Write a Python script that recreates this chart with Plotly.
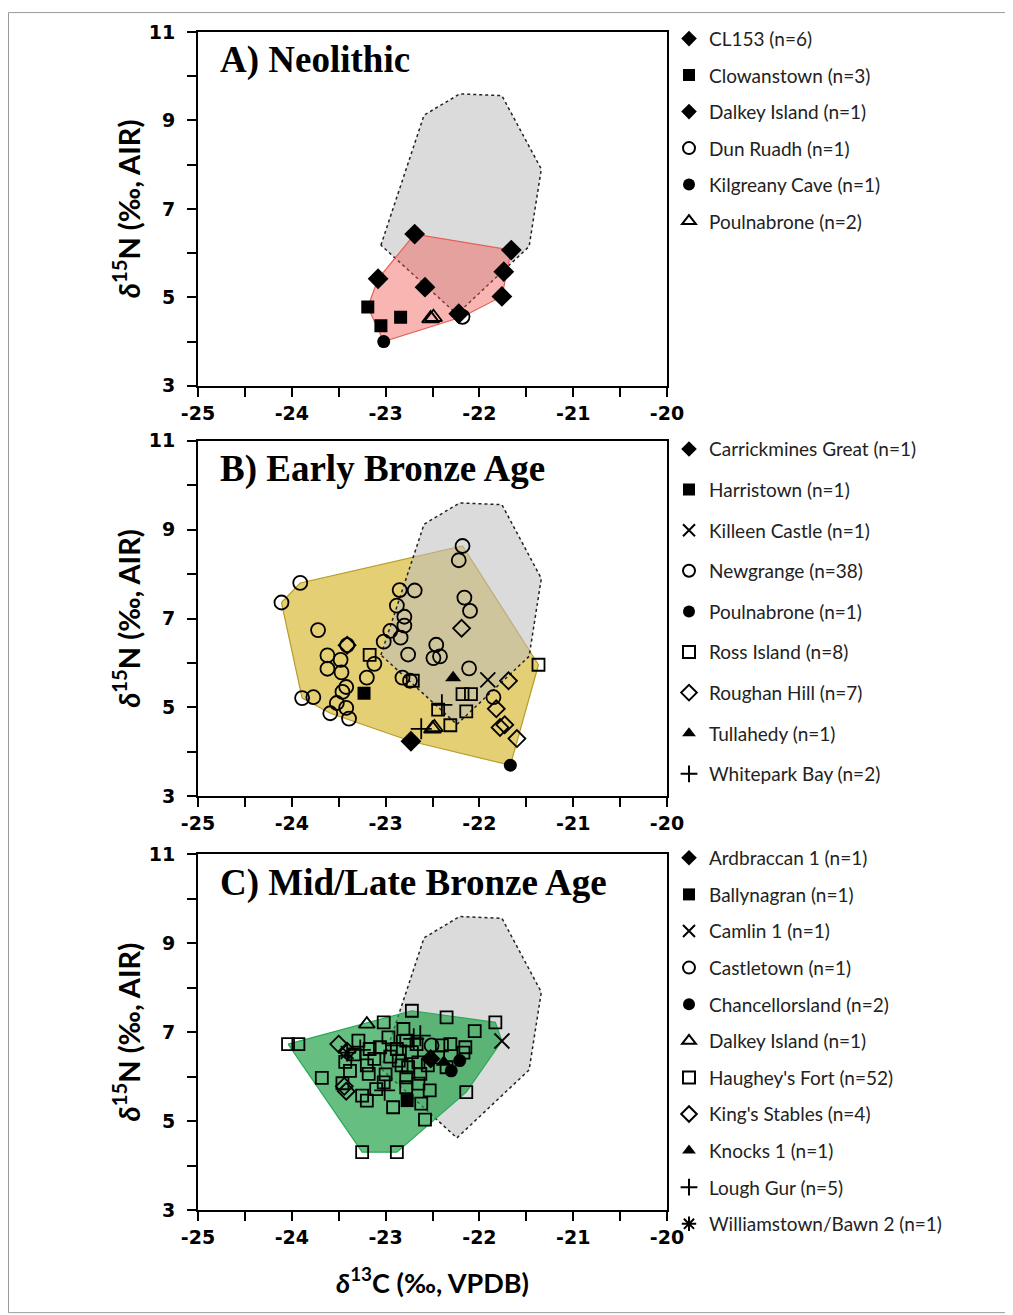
import plotly.graph_objects as go

# ---------------- reference (grey) region ----------------
ref_c13 = [-23.05, -22.59, -22.21, -21.76, -21.34, -21.47, -22.24]
ref_n15 = [6.18, 9.12, 9.60, 9.56, 7.90, 6.15, 4.62]

# ---------------- Panel A: Neolithic ----------------
a_cl153_x = [-22.69, -21.66, -23.08, -22.58, -21.74, -21.76]
a_cl153_y = [6.43, 6.07, 5.42, 5.23, 5.58, 5.02]
a_clow_x = [-23.19, -23.05, -22.84]
a_clow_y = [4.78, 4.36, 4.55]
a_dalkey_x = [-22.22]
a_dalkey_y = [4.63]
a_dun_x = [-22.18]
a_dun_y = [4.56]
a_kil_x = [-23.02]
a_kil_y = [4.00]
a_poul_x = [-22.52, -22.49]
a_poul_y = [4.52, 4.55]

# ---------------- Panel B: Early Bronze Age ----------------
b_carr_x = [-22.73]
b_carr_y = [4.24]
b_harr_x = [-23.23]
b_harr_y = [5.32]
b_kill_x = [-21.91]
b_kill_y = [5.62]
b_new_x = [-22.18, -22.22, -23.91, -24.11, -22.85, -22.69, -22.16, -22.10, -22.88, -22.80,
           -22.80, -23.72, -22.95, -22.84, -23.02, -22.46, -23.41, -23.62, -23.48, -23.12,
           -22.76, -23.62, -23.47, -23.20, -22.82, -22.74, -23.42, -23.46, -23.89, -23.77,
           -23.52, -23.42, -23.59, -23.39, -22.49, -22.42, -22.11, -21.85]
b_new_y = [8.63, 8.31, 7.80, 7.36, 7.64, 7.63, 7.47, 7.17, 7.29, 7.04,
           6.84, 6.74, 6.72, 6.57, 6.48, 6.41, 6.40, 6.17, 6.07, 5.98,
           6.19, 5.87, 5.79, 5.67, 5.67, 5.60, 5.46, 5.35, 5.21, 5.23,
           5.10, 4.99, 4.87, 4.75, 6.11, 6.15, 5.88, 5.23]
b_poul_x = [-21.67]
b_poul_y = [3.70]
b_ross_x = [-23.17, -22.71, -21.37, -22.18, -22.09, -22.44, -22.14, -22.31]
b_ross_y = [6.18, 5.60, 5.96, 5.30, 5.30, 4.95, 4.91, 4.60]
b_rough_x = [-23.41, -22.19, -21.69, -21.82, -21.78, -21.73, -21.60]
b_rough_y = [6.40, 6.78, 5.60, 4.97, 4.55, 4.61, 4.30]
b_tull_x = [-22.28]
b_tull_y = [5.67]
b_white_x = [-22.40, -22.62]
b_white_y = [5.06, 4.52]
b_tri_x = [-22.50, -22.48]
b_tri_y = [4.52, 4.55]

# ---------------- Panel C: Mid/Late Bronze Age ----------------
c_ard_x = [-22.52]
c_ard_y = [6.40]
c_bally_x = [-22.77]
c_bally_y = [5.46]
c_camlin_x = [-21.76]
c_camlin_y = [6.80]
c_castle_x = [-22.51]
c_castle_y = [6.70]
c_chan_x = [-22.21, -22.30]
c_chan_y = [6.36, 6.13]
c_dalkey_x = [-23.20]
c_dalkey_y = [7.18]
c_haugh_x = [-24.04, -23.93, -23.68, -23.25, -22.88, -22.72, -22.35, -21.83, -22.05, -23.02,
             -22.14, -22.58, -22.92, -23.20, -23.25, -23.02, -23.10, -23.46, -23.38, -23.20,
             -23.18, -23.43, -23.29, -23.17, -23.06, -22.97, -22.81, -22.78, -22.88, -22.86,
             -22.83, -22.67, -22.65, -22.63, -22.76, -22.78, -22.78, -22.65, -22.53, -22.62,
             -22.31, -22.15, -22.17, -22.44, -22.35, -23.33, -22.95, -23.12, -22.72, -22.40,
             -23.00, -22.55]
c_haugh_y = [6.73, 6.73, 5.97, 4.30, 4.30, 7.48, 7.33, 7.22, 7.02, 7.22,
             5.65, 5.03, 5.31, 5.46, 5.57, 5.87, 5.72, 5.85, 6.13, 6.25,
             6.06, 6.33, 6.81, 6.62, 6.66, 6.88, 7.07, 6.81, 6.62, 6.36,
             6.25, 6.73, 6.32, 6.06, 6.21, 5.98, 5.76, 5.84, 5.69, 5.39,
             6.73, 6.66, 6.54, 6.43, 6.21, 6.50, 6.45, 6.40, 6.55, 6.70,
             6.05, 6.25]
c_kings_x = [-23.50, -23.41, -23.44, -23.42]
c_kings_y = [6.73, 6.57, 5.78, 5.67]
c_knocks_x = [-22.38]
c_knocks_y = [6.32]
c_lough_x = [-22.63, -23.01, -22.70, -22.88, -23.27]
c_lough_y = [6.92, 5.69, 6.85, 6.70, 6.60]
c_will_x = [-23.41]
c_will_y = [6.54]

x_major = [-25, -24, -23, -22, -21, -20]
y_major = [3, 5, 7, 9, 11]


def hull(xs, ys):
    pts = sorted(set(zip(xs, ys)))
    def cross(o, a, b):
        return (a[0] - o[0]) * (b[1] - o[1]) - (a[1] - o[1]) * (b[0] - o[0])
    lower, upper = [], []
    for p in pts:
        while len(lower) >= 2 and cross(lower[-2], lower[-1], p) <= 0:
            lower.pop()
        lower.append(p)
    for p in reversed(pts):
        while len(upper) >= 2 and cross(upper[-2], upper[-1], p) <= 0:
            upper.pop()
        upper.append(p)
    h = lower[:-1] + upper[:-1]
    h.append(h[0])
    return [p[0] for p in h], [p[1] for p in h]


fig = go.Figure()

LEGEND_FONT = dict(family="Lato, Calibri, sans-serif", size=19, color="#222")


def ref_poly(ax, fill):
    fig.add_trace(go.Scatter(x=ref_c13 + ref_c13[:1], y=ref_n15 + ref_n15[:1], mode="lines",
                             fill="toself", fillcolor=fill,
                             line=dict(color="#222", width=1.5, dash="dot"),
                             xaxis="x" + ax, yaxis="y" + ax, showlegend=False, hoverinfo="skip"))


def hull_poly(ax, xs, ys, fill, edge):
    hx, hy = hull(xs, ys)
    fig.add_trace(go.Scatter(x=hx, y=hy, mode="lines", fill="toself", fillcolor=fill,
                             line=dict(color=edge, width=1.2),
                             xaxis="x" + ax, yaxis="y" + ax, showlegend=False, hoverinfo="skip"))


def pts(ax, leg, name, xs, ys, symbol, size, show=True):
    open_ = "open" in symbol or "thin" in symbol
    fig.add_trace(go.Scatter(
        x=xs, y=ys, mode="markers", name=name, legend=leg, legendgroup=name + leg,
        showlegend=show,
        marker=dict(symbol=symbol, size=size, color="black",
                    line=dict(width=1.8 if open_ else 0, color="black")),
        xaxis="x" + ax, yaxis="y" + ax))


# Panel A
ref_poly("", "rgba(190,190,190,0.55)")
hull_poly("", a_cl153_x + a_clow_x + a_dalkey_x + a_dun_x + a_kil_x + a_poul_x,
          a_cl153_y + a_clow_y + a_dalkey_y + a_dun_y + a_kil_y + a_poul_y,
          "rgba(240,90,85,0.45)", "rgb(230,95,90)")
pts("", "legend", "CL153 (n=6)", a_cl153_x, a_cl153_y, "diamond", 16)
pts("", "legend", "Clowanstown (n=3)", a_clow_x, a_clow_y, "square", 13)
pts("", "legend", "Dalkey Island (n=1)", a_dalkey_x, a_dalkey_y, "diamond", 16)
pts("", "legend", "Dun Ruadh (n=1)", a_dun_x, a_dun_y, "circle-open", 14)
pts("", "legend", "Kilgreany Cave (n=1)", a_kil_x, a_kil_y, "circle", 13)
pts("", "legend", "Poulnabrone (n=2)", a_poul_x, a_poul_y, "triangle-up-open", 15)

# Panel B
allbx = b_carr_x + b_harr_x + b_kill_x + b_new_x + b_poul_x + b_ross_x + b_rough_x + b_tull_x + b_white_x
allby = b_carr_y + b_harr_y + b_kill_y + b_new_y + b_poul_y + b_ross_y + b_rough_y + b_tull_y + b_white_y
hull_poly("2", allbx, allby, "rgba(210,175,25,0.6)", "rgb(185,155,40)")
ref_poly("2", "rgba(190,190,190,0.55)")
pts("2", "legend2", "Carrickmines Great (n=1)", b_carr_x, b_carr_y, "diamond", 16)
pts("2", "legend2", "Harristown (n=1)", b_harr_x, b_harr_y, "square", 13)
pts("2", "legend2", "Killeen Castle (n=1)", b_kill_x, b_kill_y, "x-thin-open", 15)
pts("2", "legend2", "Newgrange (n=38)", b_new_x, b_new_y, "circle-open", 14)
pts("2", "legend2", "Poulnabrone (n=1)", b_poul_x, b_poul_y, "circle", 13)
pts("2", "legend2", "Ross Island (n=8)", b_ross_x, b_ross_y, "square-open", 12)
pts("2", "legend2", "Roughan Hill (n=7)", b_rough_x, b_rough_y, "diamond-open", 13)
pts("2", "legend2", "Tullahedy (n=1)", b_tull_x, b_tull_y, "triangle-up", 14)
pts("2", "legend2", "Whitepark Bay (n=2)", b_white_x, b_white_y, "cross-thin-open", 15)
pts("2", "legend2", "Poulnabrone (n=2)", b_tri_x, b_tri_y, "triangle-up-open", 15, show=False)

# Panel C
allcx = (c_ard_x + c_bally_x + c_camlin_x + c_castle_x + c_chan_x + c_dalkey_x + c_haugh_x +
         c_kings_x + c_knocks_x + c_lough_x + c_will_x)
allcy = (c_ard_y + c_bally_y + c_camlin_y + c_castle_y + c_chan_y + c_dalkey_y + c_haugh_y +
         c_kings_y + c_knocks_y + c_lough_y + c_will_y)
ref_poly("3", "rgba(190,190,190,0.55)")
hull_poly("3", allcx, allcy, "rgba(30,160,70,0.68)", "rgb(40,170,90)")
pts("3", "legend3", "Ardbraccan 1 (n=1)", c_ard_x, c_ard_y, "diamond", 15)
pts("3", "legend3", "Ballynagran (n=1)", c_bally_x, c_bally_y, "square", 13)
pts("3", "legend3", "Camlin 1 (n=1)", c_camlin_x, c_camlin_y, "x-thin-open", 15)
pts("3", "legend3", "Castletown (n=1)", c_castle_x, c_castle_y, "circle-open", 14)
pts("3", "legend3", "Chancellorsland (n=2)", c_chan_x, c_chan_y, "circle", 13)
pts("3", "legend3", "Dalkey Island (n=1)", c_dalkey_x, c_dalkey_y, "triangle-up-open", 14)
pts("3", "legend3", "Haughey's Fort (n=52)", c_haugh_x, c_haugh_y, "square-open", 12)
pts("3", "legend3", "King's Stables (n=4)", c_kings_x, c_kings_y, "diamond-open", 13)
pts("3", "legend3", "Knocks 1 (n=1)", c_knocks_x, c_knocks_y, "triangle-up", 14)
pts("3", "legend3", "Lough Gur (n=5)", c_lough_x, c_lough_y, "cross-thin-open", 15)
pts("3", "legend3", "Williamstown/Bawn 2 (n=1)", c_will_x, c_will_y, "asterisk-open", 15)

# ---------------- layout ----------------
OFF = 8                      # page body margin of the html page
W, H = 1013 - OFF, 1315 - OFF
L, R, T, B = 198 - OFF, 667 - OFF, 28 - OFF, 1210 - OFF
PH = B - T


def ypaper(page_py):
    return (B - (page_py - OFF)) / PH


def xpaper(page_px):
    return ((page_px - OFF) - L) / (R - L)


TICKFONT = dict(family="DejaVu Sans, Verdana, sans-serif", size=19, color="black")
YTITLE = "<b><i>δ</i><sup>15</sup>N (‰, AIR)</b>"
TITLEFONT = dict(family="Lato, Calibri, sans-serif", size=29, color="black")


def xax(show_title):
    d = dict(range=[-25, -20], tickvals=x_major, ticktext=["<b>%d</b>" % v for v in x_major],
             ticks="outside", ticklen=9, tickwidth=2, tickcolor="black",
             minor=dict(dtick=0.5, ticks="outside", ticklen=9, tickwidth=1.5, tickcolor="black"),
             showline=True, linewidth=2, linecolor="black", mirror=True,
             showgrid=False, zeroline=False, tickfont=TICKFONT, domain=[0, 1], fixedrange=True)
    if show_title:
        d["title"] = dict(text="<b><i>δ</i><sup>13</sup>C (‰, VPDB)</b>",
                          font=dict(TITLEFONT, size=27), standoff=27)
    return d


def yax(top, bot, anchor):
    return dict(range=[3, 11], tickvals=y_major, ticktext=["<b>%d</b>" % v for v in y_major],
                ticks="outside", ticklen=9, tickwidth=2, tickcolor="black",
                ticklabelstandoff=8,
                minor=dict(dtick=1, ticks="outside", ticklen=9, tickwidth=1.5, tickcolor="black"),
                showline=True, linewidth=2, linecolor="black", mirror=True,
                showgrid=False, zeroline=False, tickfont=TICKFONT,
                domain=[ypaper(bot), ypaper(top)], anchor=anchor, fixedrange=True,
                title=dict(text=YTITLE, font=TITLEFONT, standoff=0))


def legend_at(page_top, gap):
    return dict(x=xpaper(669), y=ypaper(page_top), xanchor="left", yanchor="top",
                font=LEGEND_FONT, bgcolor="rgba(0,0,0,0)", tracegroupgap=gap,
                itemsizing="constant")


fig.update_layout(
    width=W, height=H, autosize=False,
    margin=dict(l=L, r=W - R, t=T, b=H - B),
    paper_bgcolor="white", plot_bgcolor="white",
    xaxis=dict(xax(False), anchor="y"),
    yaxis=yax(28, 383, "x"),
    xaxis2=dict(xax(False), anchor="y2"),
    yaxis2=yax(438, 795, "x2"),
    xaxis3=dict(xax(True), anchor="y3"),
    yaxis3=yax(853, 1210, "x3"),
    legend=legend_at(15.7, 8.8),
    legend2=legend_at(427.5, 12.9),
    legend3=legend_at(837.7, 8.9),
    showlegend=True,
)

titles = [("A) Neolithic", "x", "y"), ("B) Early Bronze Age", "x2", "y2"),
          ("C) Mid/Late Bronze Age", "x3", "y3")]
for txt, xa, ya in titles:
    fig.add_annotation(text="<b>" + txt + "</b>", xref=xa + " domain", yref=ya + " domain",
                       x=0.043, y=0.92, xanchor="left", yanchor="middle", showarrow=False,
                       font=dict(family="Liberation Serif, Times New Roman, serif", size=37,
                                 color="black"))

# thin frame around the whole picture
fig.add_shape(type="rect", xref="paper", yref="paper",
              x0=(0.5 - L) / (R - L), x1=(W - 2 - L) / (R - L),
              y0=(B - (H - 2)) / PH, y1=(B - 0.5) / PH,
              line=dict(color="#9a9a9a", width=1), fillcolor="rgba(0,0,0,0)", layer="below")

fig.write_html("out.html")
